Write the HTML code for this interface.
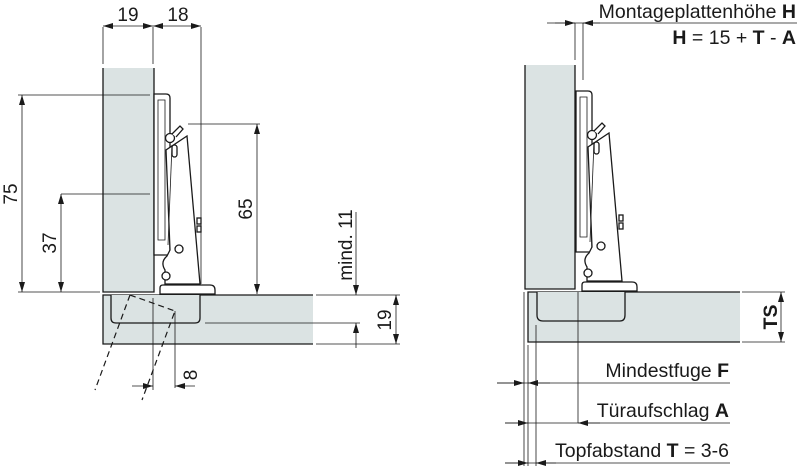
<!DOCTYPE html>
<html><head><meta charset="utf-8"><style>
html,body{margin:0;padding:0;background:#fff;}
svg{display:block;}
text{font-family:"Liberation Sans",sans-serif;fill:#1a1a1a;}
</style></head><body>
<svg width="800" height="466" viewBox="0 0 800 466" xmlns="http://www.w3.org/2000/svg">
<defs>
<marker id="a" viewBox="0 0 10 6" refX="10" refY="3" markerWidth="10" markerHeight="6" orient="auto-start-reverse" markerUnits="userSpaceOnUse"><path d="M0,0 L10,3 L0,6 z" fill="#1a1a1a"/></marker>
<g id="hinge" fill="#fff" stroke="#1a1a1a" stroke-width="1.3">
<path d="M154,94 H166 Q170,94 170,98 V255 H154 Z"/>
<path d="M158,100 H165 V240 H158 Z" fill="none" stroke-width="0.8"/>
<path d="M187,136 L200,284 H165 V270 Q160,262 167,256 L170,250 L166,150 Z"/>
<line x1="172" y1="145" x2="168" y2="245" stroke-width="0.8"/>
<circle cx="170" cy="138" r="4.5"/>
<path d="M172,134 L180,126 L183,129 L176,137" />
<rect x="172" y="145" width="5" height="12" rx="2.5"/>
<circle cx="179" cy="249" r="4"/>
<circle cx="166" cy="276" r="4"/>
<rect x="197" y="218" width="4" height="6"/>
<rect x="197" y="226" width="4" height="6"/>
<path d="M160,294 V288 Q160,285 163,285 H210 Q215,285 215,290 V294 Z"/>
</g>
</defs>

<!-- LEFT DRAWING -->
<rect x="103" y="68" width="51" height="224" fill="#dbe3e3"/>
<path d="M154,68 V292 H103 V68" fill="none" stroke="#1a1a1a" stroke-width="1.3"/>
<rect x="103" y="295" width="210" height="49" fill="#dbe3e3"/>
<path d="M313,295 H103 V344 H313" fill="none" stroke="#1a1a1a" stroke-width="1.3"/>
<path d="M111,295 V318 Q111,323 116,323 H195 Q200,323 200,318 V295" fill="#dbe3e3" stroke="#1a1a1a" stroke-width="1.3"/>
<use href="#hinge"/>

<g stroke="#1a1a1a" stroke-width="0.8" fill="none">
<line x1="103" y1="27" x2="103" y2="64"/>
<line x1="153" y1="27" x2="153" y2="64"/>
<line x1="201" y1="27" x2="201" y2="284"/>
<line x1="103" y1="26" x2="153" y2="26" marker-start="url(#a)" marker-end="url(#a)"/>
<line x1="153" y1="26" x2="201" y2="26" marker-start="url(#a)" marker-end="url(#a)"/>
<line x1="18" y1="95" x2="150" y2="95"/>
<line x1="18" y1="292" x2="100" y2="292"/>
<line x1="22" y1="95" x2="22" y2="292" marker-start="url(#a)" marker-end="url(#a)"/>
<line x1="61" y1="194" x2="150" y2="194"/>
<line x1="61" y1="194" x2="61" y2="292" marker-start="url(#a)" marker-end="url(#a)"/>
<line x1="188" y1="124" x2="260" y2="124"/>
<line x1="257" y1="124" x2="257" y2="294" marker-start="url(#a)" marker-end="url(#a)"/>
<line x1="205" y1="323" x2="360" y2="323"/>
<line x1="316" y1="295" x2="400" y2="295"/>
<line x1="316" y1="344" x2="400" y2="344"/>
<line x1="356" y1="212" x2="356" y2="295" marker-end="url(#a)"/>
<line x1="356" y1="348" x2="356" y2="323" marker-end="url(#a)"/>
<line x1="396" y1="295" x2="396" y2="344" marker-start="url(#a)" marker-end="url(#a)"/>
<line x1="153" y1="298" x2="153" y2="390"/>
<line x1="175" y1="311" x2="175" y2="388"/>
<line x1="132" y1="386" x2="153" y2="386" marker-end="url(#a)"/>
<line x1="195" y1="386" x2="175" y2="386" marker-end="url(#a)"/>
<path d="M130,295 L95,390 M130,295 L175,311 L142,400" stroke-dasharray="6,4" stroke-width="1.2"/>
</g>
<g font-size="19">
<text x="128" y="21" text-anchor="middle">19</text>
<text x="178" y="21" text-anchor="middle">18</text>
<text transform="translate(17,194) rotate(-90)" text-anchor="middle">75</text>
<text transform="translate(56,243) rotate(-90)" text-anchor="middle">37</text>
<text transform="translate(252,209) rotate(-90)" text-anchor="middle">65</text>
<text transform="translate(352,245) rotate(-90)" text-anchor="middle">mind. 11</text>
<text transform="translate(391,320) rotate(-90)" text-anchor="middle">19</text>
<text transform="translate(197,375) rotate(-90)" text-anchor="middle">8</text>
</g>

<!-- RIGHT DRAWING -->
<rect x="525" y="65" width="50" height="224" fill="#dbe3e3"/>
<path d="M575,65 V289 H525 V65" fill="none" stroke="#1a1a1a" stroke-width="1.3"/>
<rect x="528" y="292" width="212" height="50" fill="#dbe3e3"/>
<path d="M740,292 H528 V342 H740" fill="none" stroke="#1a1a1a" stroke-width="1.3"/>
<path d="M537,292 V315 Q537,321 543,321 H620 Q625,321 625,315 V292" fill="#dbe3e3" stroke="#1a1a1a" stroke-width="1.3"/>
<use href="#hinge" transform="translate(422,-3)"/>

<g stroke="#1a1a1a" stroke-width="0.8" fill="none">
<line x1="547" y1="23" x2="797" y2="23"/>
<line x1="555" y1="23" x2="575" y2="23" marker-end="url(#a)"/>
<line x1="600" y1="23" x2="583" y2="23" marker-end="url(#a)"/>
<line x1="575" y1="23" x2="575" y2="60"/>
<line x1="583" y1="23" x2="583" y2="80"/>
<line x1="742" y1="292" x2="785" y2="292"/>
<line x1="742" y1="342" x2="785" y2="342"/>
<line x1="781" y1="292" x2="781" y2="342" marker-start="url(#a)" marker-end="url(#a)"/>
<line x1="524" y1="292" x2="524" y2="466"/>
<line x1="528" y1="345" x2="528" y2="466"/>
<line x1="536" y1="325" x2="536" y2="466"/>
<line x1="578" y1="292" x2="578" y2="423"/>
<line x1="497" y1="383" x2="730" y2="383"/>
<line x1="497" y1="383" x2="524" y2="383" marker-end="url(#a)"/>
<line x1="550" y1="383" x2="528" y2="383" marker-end="url(#a)"/>
<line x1="505" y1="423" x2="730" y2="423"/>
<line x1="505" y1="423" x2="528" y2="423" marker-end="url(#a)"/>
<line x1="600" y1="423" x2="578" y2="423" marker-end="url(#a)"/>
<line x1="505" y1="463" x2="730" y2="463"/>
<line x1="505" y1="463" x2="528" y2="463" marker-end="url(#a)"/>
<line x1="556" y1="463" x2="536" y2="463" marker-end="url(#a)"/>
</g>
<g font-size="19.5">
<text x="796" y="18" text-anchor="end">Montageplattenhöhe <tspan font-weight="bold">H</tspan></text>
<text x="796" y="44" text-anchor="end"><tspan font-weight="bold">H</tspan> = 15 + <tspan font-weight="bold">T</tspan> - <tspan font-weight="bold">A</tspan></text>
<text transform="translate(777,317) rotate(-90)" font-weight="bold" text-anchor="middle">TS</text>
<text x="729" y="377" text-anchor="end">Mindestfuge <tspan font-weight="bold">F</tspan></text>
<text x="729" y="417" text-anchor="end">Türaufschlag <tspan font-weight="bold">A</tspan></text>
<text x="729" y="457" text-anchor="end">Topfabstand <tspan font-weight="bold">T</tspan> = 3-6</text>
</g>
</svg>
</body></html>
